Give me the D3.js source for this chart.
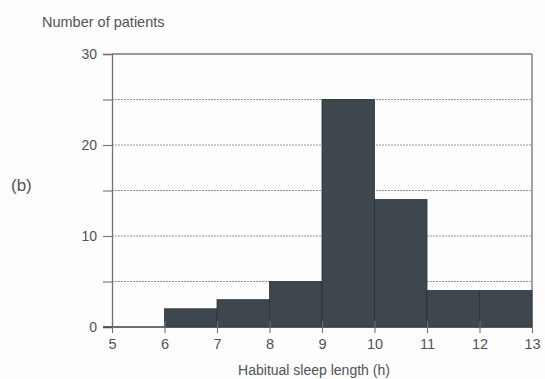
<!DOCTYPE html>
<html>
<head>
<meta charset="utf-8">
<script src="https://cdn.jsdelivr.net/npm/d3@7"></script>
<style>
  html, body { margin: 0; padding: 0; background: #fdfdfd; }
  svg { display: block; }
  text { font-family: "Liberation Sans", Arial, sans-serif; fill: #505356; }
</style>
</head>
<body>
<svg id="chart" width="545" height="379"></svg>
<script>
// Histogram of habitual sleep length: one-hour bins
const binStarts = [6, 7, 8, 9, 10, 11, 12];
const patientCounts = [2, 3, 5, 25, 14, 4, 4];
const xTickValues = [5, 6, 7, 8, 9, 10, 11, 12, 13];
const yTickLabels = [0, 10, 20, 30];
const yMinorTicks = [5, 15, 25];
const gridValues = [5, 10, 15, 20, 25];

const svg = d3.select("#chart");
const margin = { left: 112, right: 13, top: 54, bottom: 52 };
const W = 545, H = 379;

const x = d3.scaleLinear().domain([5, 13]).range([margin.left, W - margin.right]);
const y = d3.scaleLinear().domain([0, 30]).range([H - margin.bottom, margin.top]);

// dashed horizontal grid lines
svg.append("g").selectAll("line").data(gridValues).join("line")
  .attr("x1", x(5)).attr("x2", x(13))
  .attr("y1", d => y(d)).attr("y2", d => y(d))
  .attr("stroke", "#95989b").attr("stroke-width", 1)
  .attr("stroke-dasharray", "2,1");

// top and right frame lines
svg.append("line")
  .attr("x1", x(5)).attr("x2", x(13)).attr("y1", y(30)).attr("y2", y(30))
  .attr("stroke", "#77797c").attr("stroke-width", 1.4);
svg.append("line")
  .attr("x1", x(13)).attr("x2", x(13)).attr("y1", y(30)).attr("y2", y(0))
  .attr("stroke", "#77797c").attr("stroke-width", 1.4);

// bars
svg.append("g").selectAll("rect").data(binStarts).join("rect")
  .attr("x", d => x(d))
  .attr("width", d => x(d + 1) - x(d))
  .attr("y", (d, i) => y(patientCounts[i]))
  .attr("height", (d, i) => y(0) - y(patientCounts[i]))
  .attr("fill", "#3f474e")
  .attr("stroke", "#2b3136").attr("stroke-width", 0.8);

// y axis
const yAxis = svg.append("g").attr("transform", `translate(${x(5)},0)`)
  .call(d3.axisLeft(y).tickValues(yTickLabels.concat(yMinorTicks))
    .tickFormat(d => yTickLabels.includes(d) ? d : "")
    .tickSize(9).tickPadding(6));
yAxis.select(".domain").attr("stroke", "#6f7275").attr("stroke-width", 1.3);
yAxis.selectAll(".tick line").attr("stroke", "#6f7275").attr("stroke-width", 1.1);
yAxis.selectAll(".tick text").style("font-size", "14px")
  .style("font-family", "'Liberation Sans', Arial, sans-serif").attr("fill", "#505356");

// x axis
const xAxis = svg.append("g").attr("transform", `translate(0,${y(0)})`)
  .call(d3.axisBottom(x).tickValues(xTickValues).tickFormat(d3.format("d"))
    .tickSize(6).tickPadding(6));
xAxis.select(".domain").attr("stroke", "#3c4045").attr("stroke-width", 1.5)
  .attr("d", `M${x(5) - 9},0H${x(13)}`);
xAxis.selectAll(".tick line").attr("stroke", "#6f7275").attr("stroke-width", 1.1)
  .attr("y1", -6);
xAxis.selectAll(".tick text").style("font-size", "14.5px")
  .style("font-family", "'Liberation Sans', Arial, sans-serif").attr("fill", "#505356");

// titles
svg.append("text").attr("x", 42).attr("y", 27)
  .style("font-size", "14.5px").text("Number of patients");
svg.append("text").attr("x", 314).attr("y", 375).attr("text-anchor", "middle")
  .style("font-size", "14px").text("Habitual sleep length (h)");
svg.append("text").attr("x", 11).attr("y", 191)
  .style("font-size", "17px").text("(b)");
</script>
</body>
</html>
